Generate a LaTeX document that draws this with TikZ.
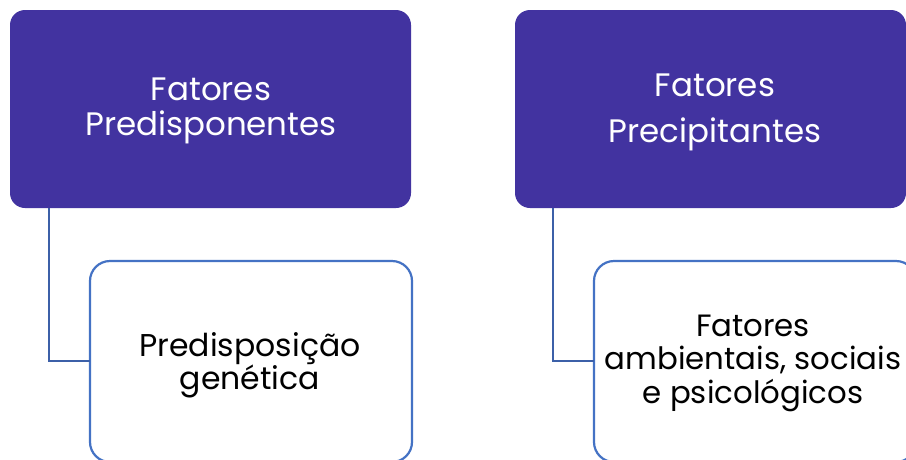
\documentclass[tikz,border=0pt]{standalone}
\usepackage{fontspec}
\setmainfont{Poppins}
\definecolor{parentfill}{RGB}{66,51,160}
\definecolor{childline}{RGB}{68,114,196}
\definecolor{connline}{RGB}{60,96,168}
\tikzset{
  parentbox/.style={fill=parentfill, rounded corners=15pt},
  childbox/.style={draw=childline, line width=2.2pt, fill=white, rounded corners=20pt},
  parenttext/.style={text=white, align=center, font=\fontsize{32.5}{35}\selectfont, inner sep=0pt},
  childtext/.style={text=black, align=center, font=\fontsize{31.5}{33}\selectfont, inner sep=0pt},
  conn/.style={draw=connline, line width=2.2pt},
}
\begin{document}
\begin{tikzpicture}[x=1pt,y=-1pt]
\useasboundingbox (0,0) rectangle (906,459);
\fill[white] (0,0) rectangle (906,459);
\begin{scope}
\clip (0,0) rectangle (906,459);
% parents
\path[parentbox] (10,10) rectangle (411,208);
\path[parentbox] (515,10) rectangle (906,208);
\coordinate (p1) at (49,208);
\coordinate (p2) at (553,208);
% children
\draw[childbox] (90,261) rectangle (412,462);
\draw[childbox] (594,261) rectangle (916,462);
\coordinate (c1) at (90,361);
\coordinate (c2) at (594,361);
\draw[conn] (p1) |- (c1);
\draw[conn] (p2) |- (c2);
\end{scope}
\node[parenttext] (t1) at (211,111) {Fatores\\Predisponentes};
\node[parenttext, font=\fontsize{32.5}{46}\selectfont] (t2) at (715,112) {Fatores\\Precipitantes};
\node[childtext] (t3) at (250,365) {Predisposição\\genética};
\node[childtext, font=\fontsize{30.8}{33.5}\selectfont] (t4) at (753,363) {Fatores\\ambientais, sociais\\e psicológicos};
\end{tikzpicture}
\end{document}
